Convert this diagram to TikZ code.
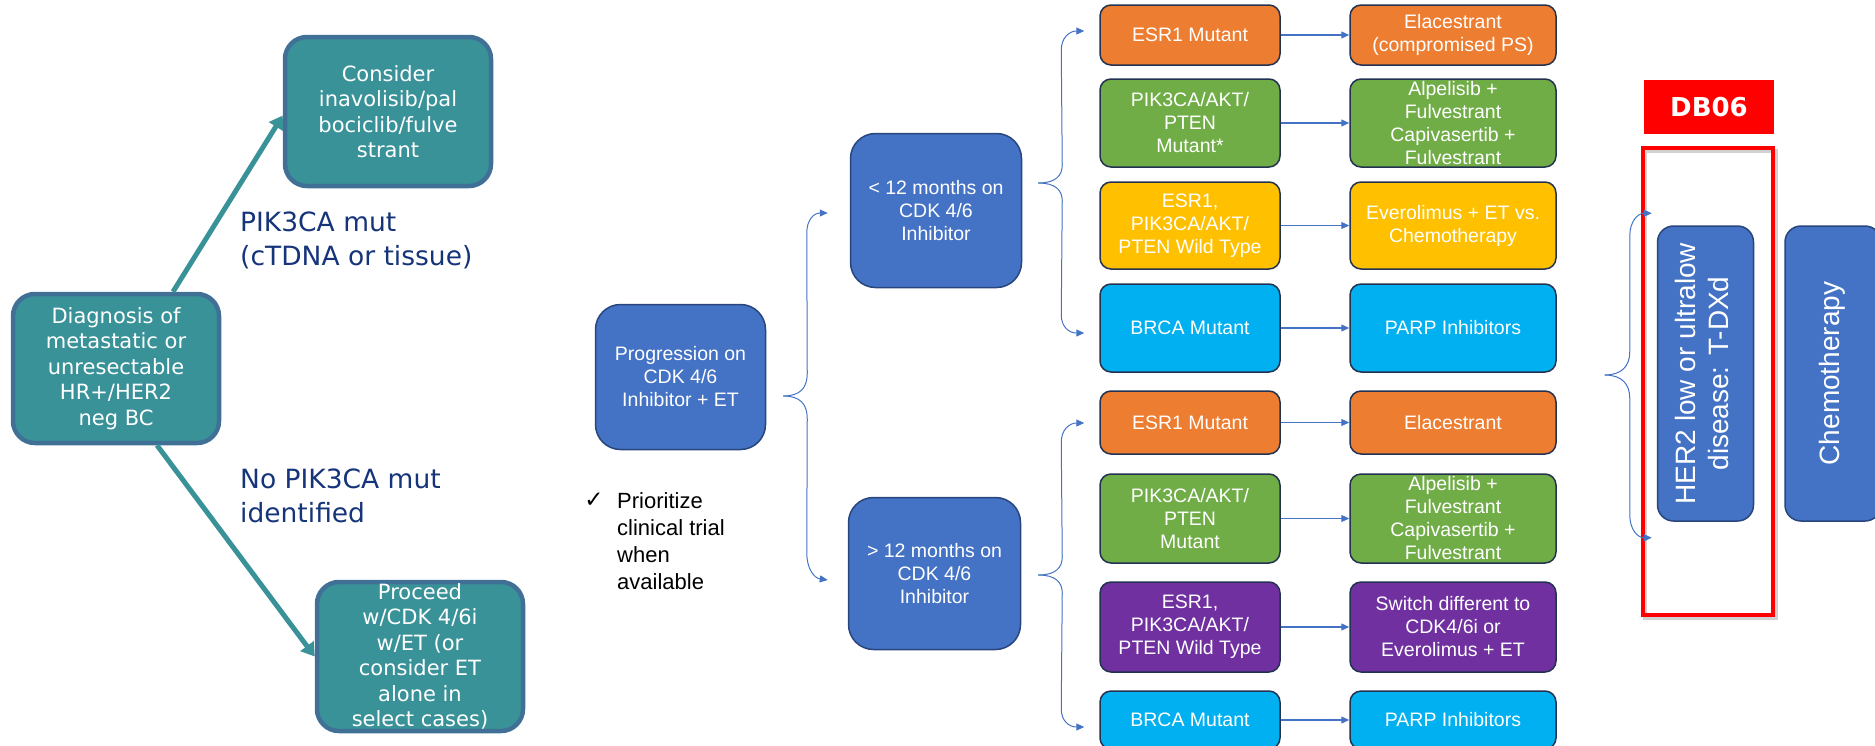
\documentclass[tikz,border=0pt]{standalone}
\usepackage{fontspec}
\usepackage{graphicx}
\setmainfont{Liberation Sans}
\newfontfamily\vfont{DejaVu Sans}
\usetikzlibrary{calc,arrows.meta}

\definecolor{tealfill}{RGB}{58,146,153}
\definecolor{tealedge}{RGB}{64,112,150}
\definecolor{navytext}{RGB}{22,52,122}
\definecolor{pblue}{RGB}{68,114,196}
\definecolor{pblueedge}{RGB}{40,70,125}
\definecolor{porange}{RGB}{237,125,49}
\definecolor{pgreen}{RGB}{112,173,71}
\definecolor{pyellow}{RGB}{255,192,0}
\definecolor{pcyan}{RGB}{0,176,240}
\definecolor{ppurple}{RGB}{112,48,160}
\definecolor{celledge}{RGB}{35,50,80}
\definecolor{pred}{RGB}{255,0,0}

\tikzset{
  tealbox/.style={draw=tealedge, line width=4.5, fill=tealfill, rounded corners=22,
    text=white, font=\vfont\fontsize{21}{25.5}\selectfont, align=center,
    inner sep=0, minimum width=206, minimum height=149},
  tealarrow/.style={draw=tealfill, line width=5, -{Triangle[length=13,width=16]}},
  pathlabel/.style={text=navytext, font=\vfont\fontsize{26.5}{34}\selectfont,
    align=left, anchor=west, inner sep=0},
  bluebox/.style={draw=pblueedge, line width=1.5, fill=pblue, rounded corners=25,
    text=white, font=\fontsize{19.5}{23}\selectfont, align=center, inner sep=0},
  cell/.style={draw=celledge, line width=1.5, rounded corners=11, text=white,
    font=\fontsize{19.5}{23}\selectfont, align=center, inner sep=0},
  leftcell/.style={cell, minimum width=180},
  rightcell/.style={cell, minimum width=206},
  flow/.style={draw=pblue, line width=1.1, -{Triangle[length=8,width=7]}},
  brace/.style={draw=pblue, line width=1, -{Triangle[length=8,width=7]}},
  tallbox/.style={draw=pblueedge, line width=1.5, fill=pblue, rounded corners=16,
    text=white, inner sep=0, minimum width=96, minimum height=295},
}

\newcommand{\vlines}[1]{\rotatebox{90}{\fontsize{28}{33}\selectfont
  \setlength{\tabcolsep}{0pt}\begin{tabular}{c}#1\end{tabular}}}

\begin{document}
\begin{tikzpicture}[x=1pt,y=-1pt]
\useasboundingbox (0,0) rectangle (1875,745);
\clip (0,0) rectangle (1875,745);

% ---------- first-line decision ----------
\node[tealbox] (diag) at (116,368.5)
  {Diagnosis of\\metastatic or\\unresectable\\HR+/HER2\\neg BC};
\node[tealbox] (consider) at (388,111.5)
  {Consider\\inavolisib/pal\\bociclib/fulve\\strant};
\node[tealbox] (proceed) at (420,656.5)
  {Proceed\\w/CDK 4/6i\\w/ET (or\\consider ET\\alone in\\select cases)};

\draw[tealarrow] ($(diag.north)+(57,0)$) -- ($(consider.west)+(0,4)$);
\draw[tealarrow] ($(diag.south)+(41,0)$) -- (proceed.west);

\node[pathlabel] (lblmut) at (240,240) {PIK3CA mut\\(cTDNA or tissue)};
\node[pathlabel] (lblnomut) at (240,496) {No PIK3CA mut\\identified};

% ---------- progression split ----------
\node[bluebox, minimum width=170, minimum height=145] (prog) at (680.5,377)
  {Progression on\\CDK 4/6\\Inhibitor + ET};
\node[bluebox, minimum width=171, minimum height=154] (lt12) at (936,210.5)
  {< 12 months on\\CDK 4/6\\Inhibitor};
\node[bluebox, minimum width=172, minimum height=152] (gt12) at (934.5,573.5)
  {> 12 months on\\CDK 4/6\\Inhibitor};

\node[inner sep=0, font=\vfont\fontsize{23}{23}\selectfont] (tick) at (594,500) {✓};
\node[inner sep=0, anchor=west, align=left, font=\fontsize{22}{27}\selectfont] (trial)
  at (617,541.5) {Prioritize\\clinical trial\\when\\available};

\coordinate (ptip) at ($(prog.east)+(17,19)$);
\coordinate (pup) at ($(lt12.west)+(-22,2.5)$);
\coordinate (pdn) at ($(gt12.west)+(-20,6.5)$);
\draw[brace] (ptip) .. controls ++(17,0) and ($(ptip)+(24,-8)$) .. ($(ptip)+(24,-23)$)
  -- ($(pup)+(-21,20)$) .. controls ($(pup)+(-21,7)$) and ($(pup)+(-14,0)$) .. (pup);
\draw[brace] (ptip) .. controls ++(17,0) and ($(ptip)+(24,8)$) .. ($(ptip)+(24,23)$)
  -- ($(pdn)+(-21,-27)$) .. controls ($(pdn)+(-21,-12)$) and ($(pdn)+(-14,-2)$) .. (pdn);

% ---------- under 12 months ----------
\node[leftcell, fill=porange, minimum height=60] (a1) at (1190,35) {ESR1 Mutant};
\node[rightcell, fill=porange, minimum height=60] (a1r) at (1453,35)
  {Elacestrant\\(compromised PS)};
\node[leftcell, fill=pgreen, minimum height=88] (a2) at (1190,123)
  {PIK3CA/AKT/\\PTEN\\Mutant*};
\node[rightcell, fill=pgreen, minimum height=88] (a2r) at (1453,123)
  {Alpelisib +\\Fulvestrant\\Capivasertib +\\Fulvestrant};
\node[leftcell, fill=pyellow, minimum height=87] (a3) at (1190,225.5)
  {ESR1,\\PIK3CA/AKT/\\PTEN Wild Type};
\node[rightcell, fill=pyellow, minimum height=87] (a3r) at (1453,225.5)
  {Everolimus + ET vs.\\Chemotherapy};
\node[leftcell, fill=pcyan, minimum height=88] (a4) at (1190,328) {BRCA Mutant};
\node[rightcell, fill=pcyan, minimum height=88] (a4r) at (1453,328) {PARP Inhibitors};

\foreach \r in {a1,a2,a3,a4} \draw[flow] (\r.east) -- (\r r.west);

\coordinate (atip) at ($(lt12.east)+(16,-27.5)$);
\coordinate (aup) at ($(a1.west)+(-15,-4)$);
\coordinate (adn) at ($(a4.west)+(-15,5)$);
\draw[brace] (atip) .. controls ++(17,0) and ($(atip)+(24,-7)$) .. ($(atip)+(24,-18)$)
  -- ($(aup)+(-23,19)$) .. controls ($(aup)+(-23,7)$) and ($(aup)+(-15,0)$) .. (aup);
\draw[brace] (atip) .. controls ++(17,0) and ($(atip)+(24,7)$) .. ($(atip)+(24,18)$)
  -- ($(adn)+(-23,-18)$) .. controls ($(adn)+(-23,-6)$) and ($(adn)+(-15,0)$) .. (adn);

% ---------- over 12 months ----------
\node[leftcell, fill=porange, minimum height=63] (b1) at (1190,422.5) {ESR1 Mutant};
\node[rightcell, fill=porange, minimum height=63] (b1r) at (1453,422.5) {Elacestrant};
\node[leftcell, fill=pgreen, minimum height=89] (b2) at (1190,518.5)
  {PIK3CA/AKT/\\PTEN\\Mutant};
\node[rightcell, fill=pgreen, minimum height=89] (b2r) at (1453,518.5)
  {Alpelisib +\\Fulvestrant\\Capivasertib +\\Fulvestrant};
\node[leftcell, fill=ppurple, minimum height=90] (b3) at (1190,627)
  {ESR1,\\PIK3CA/AKT/\\PTEN Wild Type};
\node[rightcell, fill=ppurple, minimum height=90] (b3r) at (1453,627)
  {Switch different to\\CDK4/6i or\\Everolimus + ET};
\node[leftcell, fill=pcyan, minimum height=58] (b4) at (1190,720) {BRCA Mutant};
\node[rightcell, fill=pcyan, minimum height=58] (b4r) at (1453,720) {PARP Inhibitors};

\foreach \r in {b1,b2,b3,b4} \draw[flow] (\r.east) -- (\r r.west);

\coordinate (btip) at ($(gt12.east)+(17,1.5)$);
\coordinate (bup) at ($(b1.west)+(-15,0.5)$);
\coordinate (bdn) at ($(b4.west)+(-15,7)$);
\draw[brace] (btip) .. controls ++(17,0) and ($(btip)+(24,-7)$) .. ($(btip)+(24,-18)$)
  -- ($(bup)+(-23,19)$) .. controls ($(bup)+(-23,7)$) and ($(bup)+(-15,0)$) .. (bup);
\draw[brace] (btip) .. controls ++(17,0) and ($(btip)+(24,7)$) .. ($(btip)+(24,18)$)
  -- ($(bdn)+(-23,-18)$) .. controls ($(bdn)+(-23,-6)$) and ($(bdn)+(-15,0)$) .. (bdn);

% ---------- later lines ----------
\node[fill=pred, minimum width=130, minimum height=54, inner sep=0, text=white,
  font=\vfont\bfseries\fontsize{26}{26}\selectfont] (db06) at (1709,107) {DB06};

\node[tallbox] (her2) at (1705.5,373.5)
  {\vlines{HER2 low or ultralow\\disease: T-DXd}};
\node[tallbox] (chemo) at (1833,373.5) {\vlines{Chemotherapy}};

\draw[black, opacity=0.18, line width=4] (1645,151) rectangle (1776,618);
\draw[pred, line width=4] (1643,148) rectangle (1773,615);

\coordinate (ctip) at ($(her2.west)+(-52,1.5)$);
\coordinate (cup) at ($(her2.north west)+(-5,-12)$);
\coordinate (cdn) at ($(her2.south west)+(-5,16)$);
\draw[brace] (ctip) .. controls ++(17,0) and ($(ctip)+(25,-9)$) .. ($(ctip)+(25,-23)$)
  -- ($(cup)+(-22,23)$) .. controls ($(cup)+(-22,8)$) and ($(cup)+(-14,0)$) .. (cup);
\draw[brace] (ctip) .. controls ++(17,0) and ($(ctip)+(25,9)$) .. ($(ctip)+(25,23)$)
  -- ($(cdn)+(-22,-23)$) .. controls ($(cdn)+(-22,-8)$) and ($(cdn)+(-14,0)$) .. (cdn);
\end{tikzpicture}
\end{document}
